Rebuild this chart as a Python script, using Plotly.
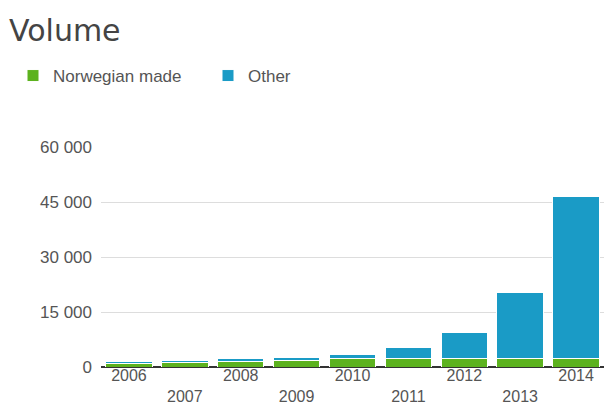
import plotly.graph_objects as go

years = ["2006", "2007", "2008", "2009", "2010", "2011", "2012", "2013", "2014"]
norwegian = [900, 1100, 1600, 1700, 2200, 2200, 2200, 2200, 2200]
other = [550, 600, 600, 800, 1100, 3100, 7300, 18000, 44200]
y_ticks = [0, 15000, 30000, 45000, 60000]

GREEN = "#5cb21e"
BLUE = "#1a9bc6"

tick_text = [y if i % 2 == 0 else "<br>" + y for i, y in enumerate(years)]

fig = go.Figure()
fig.add_trace(go.Bar(x=years, y=norwegian, name="Norwegian made",
                     marker=dict(color=GREEN, line=dict(color="white", width=1))))
fig.add_trace(go.Bar(x=years, y=other, name="Other",
                     marker=dict(color=BLUE, line=dict(color="white", width=1))))

fig.update_layout(
    width=605, height=406,
    margin=dict(l=101, r=1, t=147, b=39),
    paper_bgcolor="white", plot_bgcolor="white",
    barmode="stack", bargap=0.17,
    separators=". ",
    font=dict(family="Liberation Sans, Arial, sans-serif", size=17, color="#555555"),
    title=dict(text="Volume", x=9/605, xanchor="left", xref="container",
               y=1-30/406, yanchor="middle", yref="container",
               font=dict(family="DejaVu Sans, sans-serif", size=30, color="#444444")),
    legend=dict(orientation="h", xref="container", yref="container",
                x=13/605, xanchor="left", y=1-76/406, yanchor="middle",
                font=dict(size=17, color="#555555"), entrywidth=150, entrywidthmode="pixels",
                traceorder="normal"),
    xaxis=dict(tickvals=years, ticktext=tick_text, showgrid=False, ticks="",
               showline=False, automargin=False, ticklabelstandoff=-3,
               tickfont=dict(size=16, color="#555555")),
    yaxis=dict(range=[0, 60000], tickvals=y_ticks, tickformat=",d",
               showgrid=True, gridcolor="#dddddd", gridwidth=1,
               zeroline=True, zerolinecolor="#333333", zerolinewidth=1.5,
               ticks="", ticklabelstandoff=8, automargin=False,
               tickfont=dict(size=17, color="#555555")),
)

fig.write_html("out.html")
